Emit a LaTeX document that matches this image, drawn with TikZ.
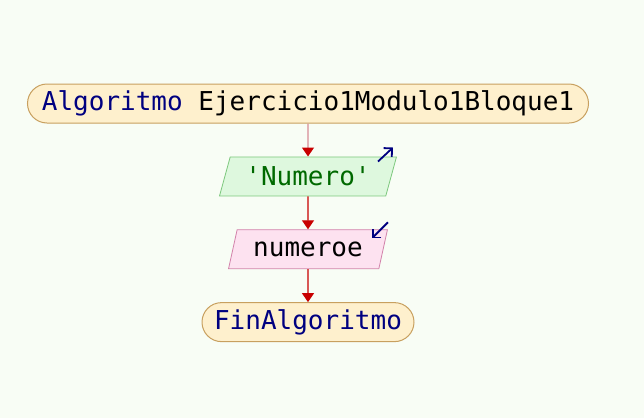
\documentclass[tikz,border=0pt]{standalone}
\usepackage{fontspec}
\setmonofont{DejaVu Sans Mono}
\usetikzlibrary{shapes.geometric,arrows.meta,positioning}
\definecolor{fondo}{RGB}{248,253,245}
\definecolor{termfill}{RGB}{254,240,205}
\definecolor{termdraw}{RGB}{200,160,95}
\definecolor{infill}{RGB}{222,248,222}
\definecolor{indraw}{RGB}{125,200,125}
\definecolor{outfill}{RGB}{253,226,240}
\definecolor{outdraw}{RGB}{210,130,170}
\definecolor{rojo}{RGB}{200,0,0}
\definecolor{rosa}{RGB}{215,140,150}
\definecolor{azul}{RGB}{0,0,128}
\definecolor{verde}{RGB}{0,105,0}

\begin{document}
\begin{tikzpicture}[
        x=1pt, y=1pt,
        node distance=33pt, % distancia entre bloques
        every node/.style={font=\fontsize{26}{30}\selectfont\ttfamily},
        term/.style={rectangle, rounded corners=19.5pt, draw=termdraw, fill=termfill, line width=1pt, minimum height=39pt, inner sep=0pt},
        para/.style={trapezium, trapezium left angle=66, trapezium right angle=114, trapezium stretches=true, line width=0.8pt, minimum height=39pt, inner sep=0pt},
        entrada/.style={para, draw=indraw, fill=infill, text=verde},
        salida/.style={para, draw=outdraw, fill=outfill},
        arrow/.style={line width=1.3pt, draw=rojo, -{Triangle[width=12pt,length=9pt,color=rojo]}},
        flecha/.style={line width=1.8pt, azul, -{Straight Barb[length=6pt,width=12pt]}}
    ]

    % fondo
    \fill[fondo] (0,0) rectangle (644,-418);
    \useasboundingbox (0,0) rectangle (644,-418);

    % bloques
    \node (inicio) [term, minimum width=561pt] at (308,-103.5) {\textcolor{azul}{Algoritmo} Ejercicio1Modulo1Bloque1};
    \node (leer) [entrada, minimum width=177pt, below=of inicio] {'Numero'};
    \node (escribir) [salida, minimum width=159pt, below=of leer] {numeroe};
    \node (fin) [term, minimum width=212pt, text=azul, below=of escribir] {FinAlgoritmo};

    % conectores
    \draw [arrow, draw=rosa] (inicio) -- (leer);
    \draw [arrow] (leer) -- (escribir);
    \draw [arrow] (escribir) -- (fin);

    % marcas de entrada / salida
    \draw [flecha] ([shift={(-19pt,-5pt)}]leer.top right corner) -- ++(15pt,14pt);
    \draw [flecha] ([shift={(0pt,7pt)}]escribir.top right corner) -- ++(-16pt,-16pt);

\end{tikzpicture}
\end{document}
